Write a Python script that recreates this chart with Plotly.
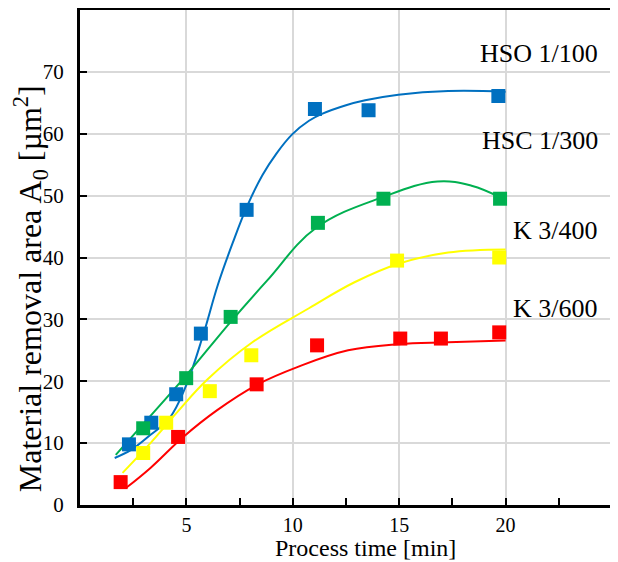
import plotly.graph_objects as go

# ---- data ----
series_names = ["HSO 1/100", "HSC 1/300", "K 3/400", "K 3/600"]
series_colors = ["#0070C0", "#00B050", "#FFFF00", "#FF0000"]

hso_x = [2.3, 3.35, 4.52, 5.68, 7.83, 11.04, 13.56, 19.66]
hso_y = [9.8, 13.3, 17.9, 27.7, 47.7, 64.0, 63.8, 66.1]

hsc_x = [2.97, 4.99, 7.08, 11.18, 14.26, 19.74]
hsc_y = [12.4, 20.5, 30.4, 45.6, 49.5, 49.5]

k400_x = [2.97, 4.05, 6.1, 8.05, 14.9, 19.7]
k400_y = [8.4, 13.3, 18.4, 24.2, 39.5, 40.0]

k600_x = [1.91, 4.61, 8.3, 11.14, 15.05, 16.96, 19.7]
k600_y = [3.7, 11.0, 19.5, 25.8, 26.9, 26.9, 27.9]

# trend curves
hso_fit_x = [1.63, 2.4, 3.3, 4.2, 4.95, 5.78, 6.48, 7.18, 7.88, 8.57, 9.23, 9.97, 10.76, 11.37, 12.5, 13.4, 14.96, 17.3, 20.0]
hso_fit_y = [7.6, 8.9, 11.3, 14.0, 19.0, 27.4, 35.6, 42.4, 48.5, 53.3, 56.8, 59.9, 62.1, 63.2, 64.6, 65.4, 66.3, 66.9, 66.8]

hsc_fit_x = [1.68, 3.0, 5.0, 7.08, 8.8, 11.1, 14.26, 16.8, 18.4, 19.76]
hsc_fit_y = [8.1, 13.2, 21.0, 29.6, 36.3, 44.8, 49.8, 52.3, 51.6, 49.7]

k400_fit_x = [2.0, 3.31, 4.57, 5.96, 8.1, 10.76, 12.9, 14.96, 17.3, 20.0]
k400_fit_y = [5.2, 10.0, 15.0, 20.2, 26.3, 31.8, 36.0, 39.0, 40.8, 41.3]

k600_fit_x = [2.14, 3.31, 4.85, 6.43, 8.3, 10.3, 12.6, 14.96, 17.3, 20.0]
k600_fit_y = [2.7, 6.0, 11.0, 15.3, 19.4, 22.4, 25.0, 26.0, 26.3, 26.6]

x_ticks = [5, 10, 15, 20, 25]
x_minor = [2.5, 7.5, 12.5, 17.5, 22.5]
y_ticks = [0, 10, 20, 30, 40, 50, 60, 70, 80]

label_y = [72.9, 58.9, 44.4, 31.8]

x_title = "Process time [min]"
y_title = "Material removal area A<sub>0</sub> [µm<sup>2</sup>]"

FONT = "Liberation Serif"

fig = go.Figure()

fits = [(hso_fit_x, hso_fit_y), (hsc_fit_x, hsc_fit_y), (k400_fit_x, k400_fit_y), (k600_fit_x, k600_fit_y)]
pts = [(hso_x, hso_y), (hsc_x, hsc_y), (k400_x, k400_y), (k600_x, k600_y)]

for (fx, fy), c, n in zip(fits, series_colors, series_names):
    fig.add_trace(go.Scatter(x=fx, y=fy, mode="lines", line=dict(color=c, width=2, shape="spline", smoothing=1.1),
                             name=n + " fit", showlegend=False, hoverinfo="skip"))
for (px, py), c, n in zip(pts, series_colors, series_names):
    fig.add_trace(go.Scatter(x=px, y=py, mode="markers", marker=dict(symbol="square", size=14, color=c, line=dict(width=0)),
                             name=n, showlegend=False))

for n, ly in zip(series_names, label_y):
    fig.add_annotation(x=24.45, y=ly, xref="x", yref="y", text=n, showarrow=False, xanchor="right", yanchor="middle",
                       font=dict(family=FONT, size=26, color="black"))

# axis titles placed as annotations to match the reference's off-centre positions
fig.add_annotation(x=0.536, y=-0.087, xref="paper", yref="paper", text=x_title, showarrow=False,
                   xanchor="center", yanchor="middle", font=dict(family=FONT, size=24, color="black"))
fig.add_annotation(x=-0.094, y=0.438, xref="paper", yref="paper", text=y_title, showarrow=False, textangle=-90,
                   xanchor="center", yanchor="middle", font=dict(family=FONT, size=32, color="black"))

fig.update_xaxes(range=[0, 25], tickvals=x_ticks, ticktext=[str(v) for v in x_ticks],
                 showgrid=True, gridcolor="#d9d9d9", gridwidth=1.5,
                 showline=True, linecolor="black", linewidth=3, mirror=True,
                 ticks="inside", ticklen=7, tickcolor="black", tickwidth=1.5,
                 minor=dict(tickvals=x_minor, ticks="inside", ticklen=7, tickcolor="black", tickwidth=1.5, showgrid=False),
                 zeroline=False,
                 tickfont=dict(family=FONT, size=20, color="black"))
fig.update_yaxes(range=[0, 80], tickvals=y_ticks,
                 showgrid=True, gridcolor="#d9d9d9", gridwidth=1.5,
                 showline=True, linecolor="black", linewidth=3, mirror=True,
                 ticks="inside", ticklen=7, tickcolor="black", tickwidth=1.5,
                 zeroline=False, ticklabelstandoff=9,
                 tickfont=dict(family=FONT, size=21, color="black"))

fig.update_layout(width=610, height=554, margin=dict(l=72, r=6, t=2, b=57, autoexpand=False),
                  paper_bgcolor="white", plot_bgcolor="white", showlegend=False)

fig.write_html("out.html")
